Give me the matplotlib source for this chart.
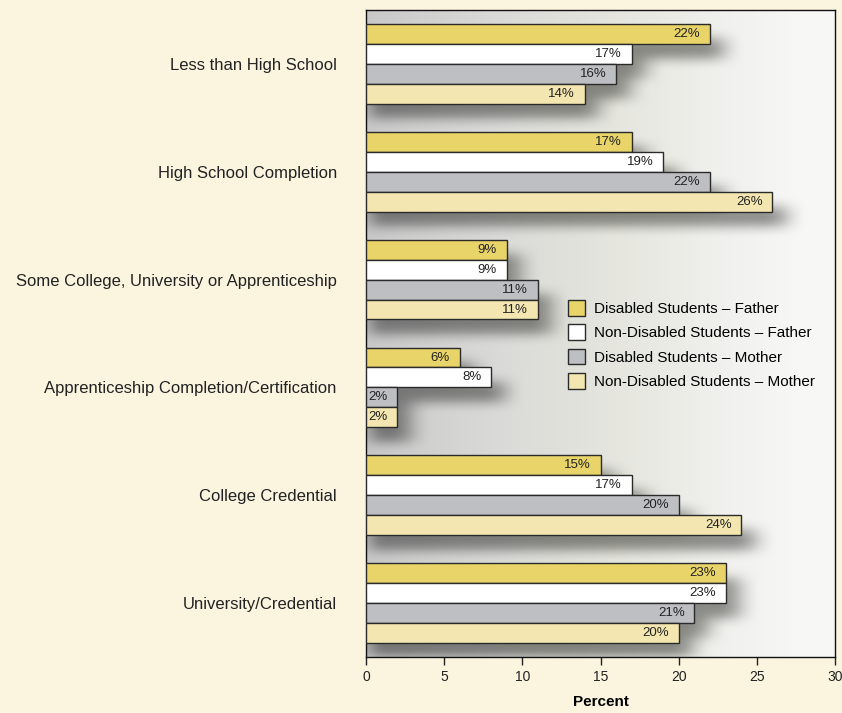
import numpy as np
import matplotlib
matplotlib.use("Agg")
from matplotlib import pyplot as plt
from matplotlib.patches import Patch

plt.rcParams['font.family'] = ['Liberation Sans Narrow', 'Liberation Sans', 'DejaVu Sans']

categories = ["Less than High School", "High School Completion",
              "Some College, University or Apprenticeship",
              "Apprenticeship Completion/Certification",
              "College Credential", "University/Credential"]
series_names = ["Disabled Students \u2013 Father", "Non-Disabled Students \u2013 Father",
                "Disabled Students \u2013 Mother", "Non-Disabled Students \u2013 Mother"]
dis_father = [22, 17, 9, 6, 15, 23]
nondis_father = [17, 19, 9, 8, 17, 23]
dis_mother = [16, 22, 11, 2, 20, 21]
nondis_mother = [14, 26, 11, 2, 24, 20]
xticks = [0, 5, 10, 15, 20, 25, 30]

colors = ["#E8D468", "#FFFFFF", "#BEBFC3", "#F3E6B0"]
series = [dis_father, nondis_father, dis_mother, nondis_mother]

bar_h = 0.185
offsets = np.array([-1.5, -0.5, 0.5, 1.5]) * bar_h

fig = plt.figure(figsize=(8.42, 7.13), dpi=100, facecolor="#FBF5E0")
ax = fig.add_axes([0.4347, 0.0785, 0.5570, 0.9075])
ax.set_xlim(0, 30)
ax.set_ylim(5.5, -0.5)

# background: gray ramp (slightly warm in the middle) with soft shadows under the bars
nx, ny = 600, 600
gx = np.linspace(0, 30, nx)
gy = np.linspace(-0.5, 5.5, ny)
X, Y = np.meshgrid(gx, gy)
ramp = 0.78 + 0.19 * np.clip(gx / 28, 0, 1) ** 0.8
base = np.tile(ramp, (ny, 1))
mask = np.zeros((ny, nx))
for i in range(len(categories)):
    for vals, off in zip(series, offsets):
        y0 = i + off - bar_h / 2 + 0.13
        y1 = i + off + bar_h / 2 + 0.13
        mask[(Y >= y0) & (Y <= y1) & (X <= vals[i] + 0.8)] = 1.0

def blur(a, kx, ky):
    kxv = np.ones(kx) / kx
    kyv = np.ones(ky) / ky
    a = np.apply_along_axis(lambda r: np.convolve(r, kxv, mode="same"), 1, a)
    a = np.apply_along_axis(lambda c: np.convolve(c, kyv, mode="same"), 0, a)
    return a

shadow = blur(blur(mask, 30, 12), 30, 12)
gray = base * (1 - 0.42 * shadow)
warm = np.exp(-((X - 16) / 8) ** 2) * 0.025
img = np.dstack([gray, gray, gray - warm])
img = np.clip(img, 0, 1)
ax.imshow(img, extent=(0, 30, 5.5, -0.5), aspect="auto",
          interpolation="bilinear", zorder=0)

y = np.arange(len(categories))
for vals, off, c in zip(series, offsets, colors):
    bars = ax.barh(y + off, vals, height=bar_h, color=c, edgecolor="#2a2a2a",
                   linewidth=1.0, zorder=3)
    for b, v in zip(bars, vals):
        ax.annotate(f"{v}%", xy=(v, b.get_y() + bar_h / 2), xytext=(-7, 0),
                    textcoords="offset points", ha="right", va="center",
                    fontsize=9.5, color="#222222", zorder=4)

ax.set_yticks(y)
ax.set_yticklabels(categories, fontsize=12, color="#222222")
ax.tick_params(axis="y", length=0, pad=21)
ax.set_xticks(xticks)
ax.set_xticklabels([str(t) for t in xticks], fontsize=10, color="#222222")
ax.tick_params(axis="x", direction="out", length=6, width=1, colors="#222222")
ax.set_xlabel("Percent", fontsize=11, fontweight="bold", family="Liberation Sans",
              labelpad=8)
for s in ax.spines.values():
    s.set_color("#111111")
    s.set_linewidth(1)

handles = [Patch(facecolor=c, edgecolor="#2a2a2a", linewidth=1) for c in colors]
ax.legend(handles, series_names, loc="upper left", bbox_to_anchor=(0.402, 0.573),
          frameon=False, fontsize=11, handlelength=1.1, handleheight=1.2,
          handletextpad=0.6, labelspacing=0.55)

fig.savefig("out.png", dpi=100, facecolor=fig.get_facecolor())
